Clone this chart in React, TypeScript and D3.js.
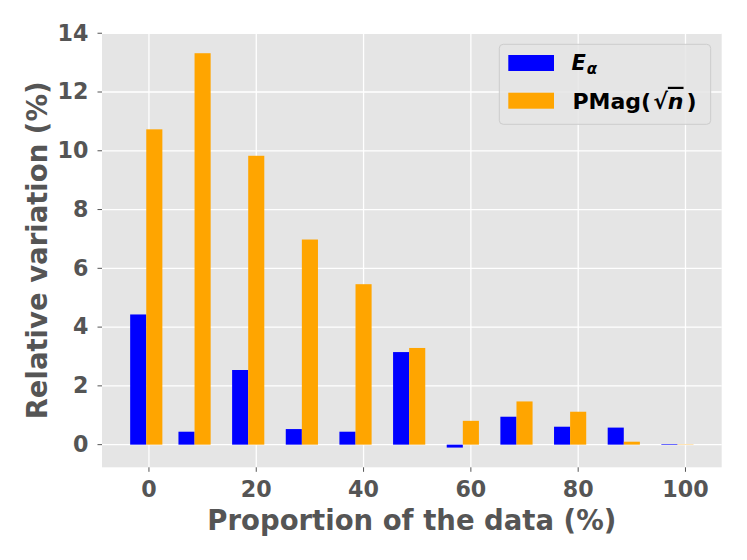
import React from 'react';
import * as d3 from 'd3';

// proportion of the data (%) at which each pair of bars sits
const proportions = [1, 10, 20, 30, 40, 50, 60, 70, 80, 90, 100];
const eAlpha = [4.43, 0.44, 2.54, 0.53, 0.44, 3.15, -0.1, 0.95, 0.61, 0.58, 0.02];
const pmag = [10.73, 13.32, 9.83, 6.98, 5.46, 3.29, 0.81, 1.47, 1.12, 0.1, 0.01];
const xTicks = [0, 20, 40, 60, 80, 100];
const yTicks = [0, 2, 4, 6, 8, 10, 12, 14];

const W = 747;
const H = 560;
const plot = { left: 102, right: 721.7, top: 33.5, bottom: 467.3 };
const barW = 3;
const textColor = '#555555';
const font = '"DejaVu Sans", sans-serif';
const tickSize = 22.2;
const labelSize = 27.5;

const App: React.FC = () => {
  const lo = d3.min(proportions)! - 3 - barW / 2;
  const hi = d3.max(proportions)! + barW / 2;
  const padX = (hi - lo) * 0.05;
  const x = d3.scaleLinear().domain([lo - padX, hi + padX]).range([plot.left, plot.right]);

  const all = eAlpha.concat(pmag);
  const vmin = Math.min(0, d3.min(all)!);
  const vmax = d3.max(all)!;
  const padY = (vmax - vmin) * 0.05;
  const y = d3.scaleLinear().domain([vmin - padY, vmax + padY]).range([plot.bottom, plot.top]);

  const bar = (center: number, v: number, color: string, key: string) => (
    <rect
      key={key}
      x={x(center - barW / 2)}
      width={x(center + barW / 2) - x(center - barW / 2)}
      y={y(Math.max(0, v))}
      height={Math.abs(y(v) - y(0))}
      fill={color}
    />
  );

  return (
    <svg width={W} height={H} style={{ position: 'absolute', left: 0, top: 0 }} fontFamily={font}>
      <rect width={W} height={H} fill="#ffffff" />
      <rect
        x={plot.left}
        y={plot.top}
        width={plot.right - plot.left}
        height={plot.bottom - plot.top}
        fill="#e5e5e5"
      />
      {/* grid */}
      {xTicks.map(t => (
        <line key={'gx' + t} x1={x(t)} x2={x(t)} y1={plot.top} y2={plot.bottom} stroke="#fff" strokeWidth={1.3} />
      ))}
      {yTicks.map(t => (
        <line key={'gy' + t} x1={plot.left} x2={plot.right} y1={y(t)} y2={y(t)} stroke="#fff" strokeWidth={1.3} />
      ))}

      {/* bars */}
      {proportions.map((p, i) => bar(p - 3, eAlpha[i], '#0000ff', 'b' + i))}
      {proportions.map((p, i) => bar(p, pmag[i], '#ffa500', 'o' + i))}

      {/* x axis */}
      {xTicks.map(t => (
        <g key={'tx' + t}>
          <line x1={x(t)} x2={x(t)} y1={plot.bottom} y2={plot.bottom + 4.5} stroke={textColor} strokeWidth={1} />
          <text x={x(t)} y={496.5} textAnchor="middle" fontSize={tickSize} fontWeight="bold" fill={textColor}>
            {t}
          </text>
        </g>
      ))}
      {/* y axis */}
      {yTicks.map(t => (
        <g key={'ty' + t}>
          <line x1={plot.left - 4.5} x2={plot.left} y1={y(t)} y2={y(t)} stroke={textColor} strokeWidth={1} />
          <text x={88.5} y={y(t)} dy="0.33em" textAnchor="end" fontSize={tickSize} fontWeight="bold" fill={textColor}>
            {t}
          </text>
        </g>
      ))}

      <text x={(plot.left + plot.right) / 2} y={529.5} textAnchor="middle" fontSize={labelSize} fontWeight="bold" fill={textColor}>
        Proportion of the data (%)
      </text>
      <text
        transform={`translate(46.7,${(plot.top + plot.bottom) / 2}) rotate(-90)`}
        textAnchor="middle"
        fontSize={labelSize}
        fontWeight="bold"
        fill={textColor}
      >
        Relative variation (%)
      </text>

      {/* legend */}
      <rect x={499.3} y={44.3} width={211.4} height={80} rx={4} fill="#e5e5e5" fillOpacity={0.85} stroke="#cccccc" strokeWidth={1} />
      <rect x={508.3} y={55} width={45.7} height={16} fill="#0000ff" />
      <rect x={508.3} y={92.7} width={45.7} height={16} fill="#ffa500" />
      <text x={571.5} y={70} fontSize={21} fontWeight="bold" fill="#000">
        <tspan fontStyle="italic">E</tspan>
        <tspan fontStyle="italic" fontSize={15} dy={4} dx={1}>α</tspan>
      </text>
      <text x={572.5} y={108.8} fontSize={22} fontWeight="bold" fill="#000">
        PMag(<tspan dx={2}>√</tspan>
        <tspan fontStyle="italic" style={{ textDecoration: 'overline' }}>n</tspan>
        <tspan dx={3}>)</tspan>
      </text>
    </svg>
  );
};

export default App;
